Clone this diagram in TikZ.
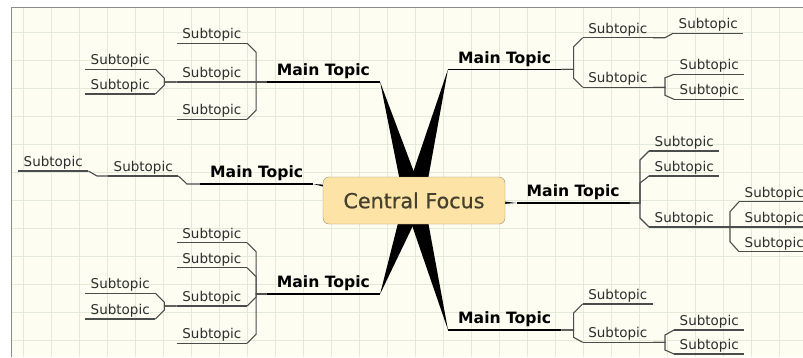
\documentclass[tikz,border=0pt]{standalone}
\usepackage{fontspec}
\setmainfont{DejaVu Sans}
\newfontfamily\focusfont[FakeBold=0.6]{DejaVu Sans}
\usetikzlibrary{calc,backgrounds}

\definecolor{paper}{HTML}{FDFDF1}
\definecolor{gridline}{HTML}{E3EAD8}
\definecolor{framegray}{HTML}{8C8C8C}
\definecolor{focusfill}{HTML}{FDE3A6}
\definecolor{focusline}{HTML}{9C8C6C}
\definecolor{focustext}{HTML}{45412F}
\definecolor{subtext}{HTML}{2E2E2E}
\definecolor{linkgray}{HTML}{4C4C4C}

\tikzset{
  sub/.style={anchor=south west, minimum width=70pt, inner xsep=0pt, inner ysep=1.4pt, text=subtext, font=\fontsize{13.5}{15}\selectfont},
  main/.style={anchor=south west, minimum width=113pt, inner xsep=0pt, inner ysep=2.8pt, font=\fontsize{15.6}{18}\selectfont\bfseries},
  focus/.style={draw=focusline, fill=focusfill, rounded corners=6pt, minimum width=182pt, minimum height=47pt, text=focustext, font=\fontsize{20.7}{24}\selectfont\focusfont},
  link/.style={draw=linkgray, line width=1.1pt},
  uline/.style={draw=linkgray, line width=1.1pt},
  mline/.style={draw=black, line width=1.3pt},
  wedge/.style={fill=black}
}

% child on the left / right of its parent, #3 = chamfer height
\newcommand{\twigL}[3]{\draw[link] (#1.south east) -- ++(9,#3) |- (#2.south west);}
\newcommand{\twigR}[3]{\draw[link] (#1.south west) -- ++(-9,#3) |- (#2.south east);}

\begin{document}
\begin{tikzpicture}[x=1pt,y=-1pt]
\useasboundingbox (0,0) rectangle (803,357);

\node[focus] (cf) at (414,200.5) {Central Focus};

% main topics
\node[main] (mUL) at (266.7,82) {Main Topic};
\node[main] (mML) at (200,184) {Main Topic};
\node[main] (mLL) at (266.7,294) {Main Topic};
\node[main] (mUR) at (448,69.3) {Main Topic};
\node[main] (mR) at (516.5,203) {Main Topic};
\node[main] (mLR) at (448,330) {Main Topic};

% subtopics, left side
\node[sub] (sUL1) at (176.7,43.3) {Subtopic};
\node[sub] (sUL2) at (176.7,82) {Subtopic};
\node[sub] (sUL3) at (176.7,119.3) {Subtopic};
\node[sub] (sUL4) at (85,69.3) {Subtopic};
\node[sub] (sUL5) at (85,94) {Subtopic};

\node[sub] (sML1) at (108,176) {Subtopic};
\node[sub] (sML2) at (18,171) {Subtopic};

\node[sub] (sLL1) at (176.7,242.7) {Subtopic};
\node[sub] (sLL2) at (176.7,267.7) {Subtopic};
\node[sub] (sLL3) at (176.7,306) {Subtopic};
\node[sub] (sLL4) at (176.7,343.3) {Subtopic};
\node[sub] (sLL5) at (85,293.3) {Subtopic};
\node[sub] (sLL6) at (85,319) {Subtopic};

% subtopics, right side
\node[sub] (sUR1) at (582.6,37.7) {Subtopic};
\node[sub] (sUR2) at (582.6,87.3) {Subtopic};
\node[sub] (sUR3) at (673,33.3) {Subtopic};
\node[sub] (sUR4) at (674,74.3) {Subtopic};
\node[sub] (sUR5) at (674,99.3) {Subtopic};

\node[sub] (sR1) at (649,151) {Subtopic};
\node[sub] (sR2) at (649,176) {Subtopic};
\node[sub] (sR3) at (649,227) {Subtopic};
\node[sub] (sR4) at (739,201.7) {Subtopic};
\node[sub] (sR5) at (739,227) {Subtopic};
\node[sub] (sR6) at (739,251.7) {Subtopic};

\node[sub] (sLR1) at (582.6,304) {Subtopic};
\node[sub] (sLR2) at (582.6,342.3) {Subtopic};
\node[sub] (sLR3) at (674,330) {Subtopic};
\node[sub] (sLR4) at (674,354) {Subtopic};

% underlines
\foreach \n in {mUL,mML,mLL,mUR,mR,mLR}{
\draw[mline] (\n.south west) -- (\n.south east);
}
\foreach \n in {sUL1,sUL2,sUL3,sUL4,sUL5,sML1,sML2,sLL1,sLL2,sLL3,sLL4,sLL5,sLL6,sUR1,sUR2,sUR3,sUR4,sUR5,sR1,sR2,sR3,sR4,sR5,sR6,sLR1,sLR2,sLR3,sLR4}{
\draw[uline] (\n.south west) -- (\n.south east);
}

% brackets
\twigL{sUL1}{mUL}{9}
\twigL{sUL2}{mUL}{0}
\twigL{sUL3}{mUL}{-9}
\twigL{sUL4}{sUL2}{9}
\twigL{sUL5}{sUL2}{-9}

\draw[link] (mML.south west) -- ++(-13,0) -- (sML1.south east);
\draw[link] (sML1.south west) -- ++(-11,0) -- (sML2.south east);

\twigL{sLL1}{mLL}{9}
\twigL{sLL2}{mLL}{9}
\twigL{sLL3}{mLL}{-9}
\twigL{sLL4}{mLL}{-9}
\twigL{sLL5}{sLL3}{9}
\twigL{sLL6}{sLL3}{-9}

\twigR{sUR1}{mUR}{9}
\twigR{sUR2}{mUR}{-9}
\draw[link] (sUR1.south east) -- ++(12,0) -- (sUR3.south west);
\twigR{sUR4}{sUR2}{3.5}
\twigR{sUR5}{sUR2}{-4}

\twigR{sR1}{mR}{9}
\twigR{sR2}{mR}{7}
\twigR{sR3}{mR}{-9}
\twigR{sR4}{sR3}{10}
\twigR{sR5}{sR3}{0}
\twigR{sR6}{sR3}{-10}

\twigR{sLR1}{mLR}{9}
\twigR{sLR2}{mLR}{-5}
\twigR{sLR3}{sLR2}{5}
\twigR{sLR4}{sLR2}{-4}

\begin{scope}[on background layer]
\fill[paper] (11.5,7.5) rectangle (803,357);
\foreach \x in {0,...,27}{
\draw[gridline] (22.7+28*\x,7.5) -- (22.7+28*\x,357);
}
\foreach \y in {0,...,11}{
\draw[gridline] (11.5,32.3+28*\y) -- (803,32.3+28*\y);
}
\draw[framegray] (11.5,357) -- (11.5,7.5) -- (803,7.5);

% tapered links from the centre
\foreach \m/\a in {mUL/south east,mML/south east,mLL/south east,mUR/south west,mR/south west,mLR/south west}{
\fill[wedge] (\m.\a) -- ($(cf.center)!10pt!90:(\m.\a)$) -- ($(cf.center)!10pt!-90:(\m.\a)$) -- cycle;
}
\end{scope}

\end{tikzpicture}
\end{document}
